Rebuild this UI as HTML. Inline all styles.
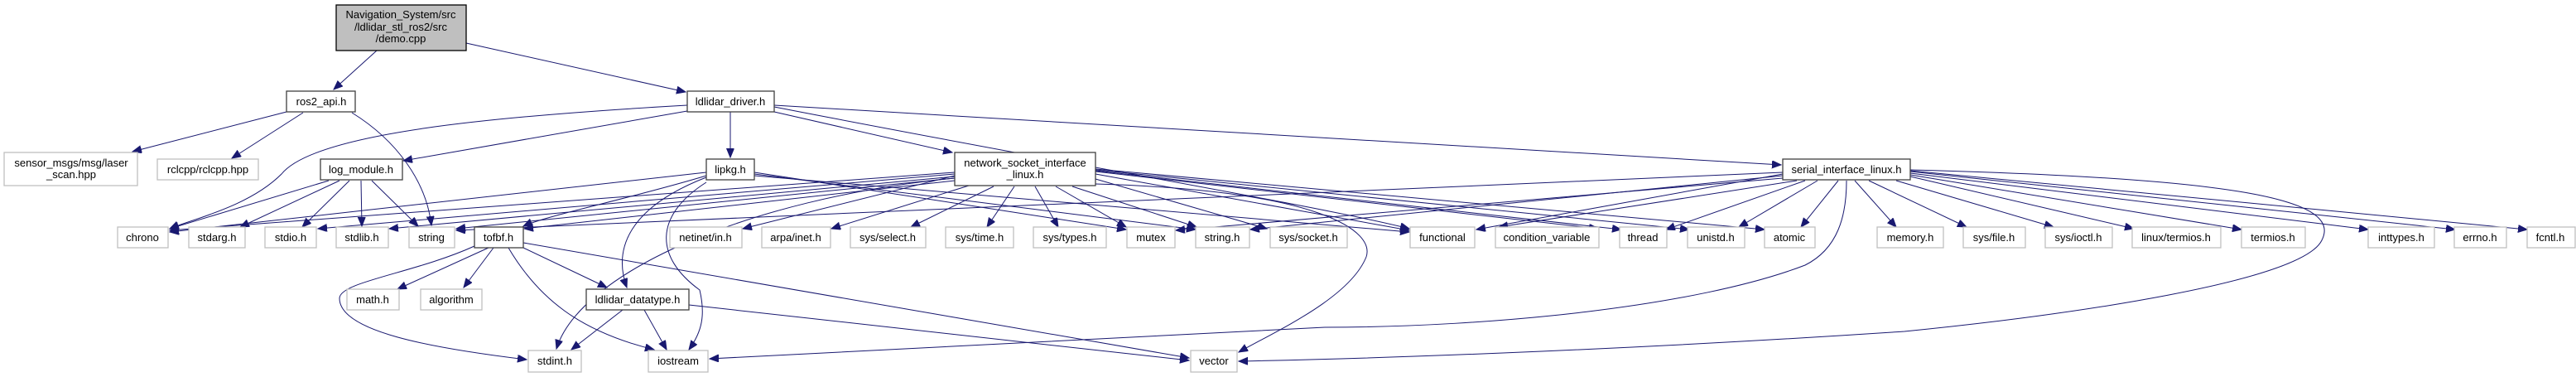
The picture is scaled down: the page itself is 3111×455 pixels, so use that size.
<!DOCTYPE html>
<html><head><meta charset="utf-8"><style>
html,body{margin:0;padding:0;background:#fff;}
svg{display:block;}
text{font-family:"Liberation Sans",Arial,sans-serif;font-size:13px;fill:#000;text-anchor:middle;}
.g{fill:#fff;stroke:#bfbfbf;stroke-width:1.3;}
.b{fill:#fff;stroke:#404040;stroke-width:1.3;}
.e path{fill:none;stroke:#191970;stroke-width:1;marker-end:url(#a);}
</style></head><body>
<svg width="3111" height="455" viewBox="0 0 3111 455" xmlns="http://www.w3.org/2000/svg">
<defs><marker id="a" markerUnits="userSpaceOnUse" markerWidth="12" markerHeight="10" refX="11" refY="4.5" orient="auto"><path d="M0,0 L11,4.5 L0,9 Z" fill="#191970" stroke="#191970"/></marker></defs>
<g class="e">
<path d="M455,61 L403,108"/>
<path d="M563,52 L828,111"/>
<path d="M346,135 L160,183"/>
<path d="M366,136 L280,191"/>
<path d="M425,136 C480,170 515,220 521,272"/>
<path d="M830,127 C600,140 380,160 340,210 C300,250 230,265 205,276"/>
<path d="M830,134 L487,194"/>
<path d="M882,135 L882,190"/>
<path d="M935,135 L1150,184"/>
<path d="M935,127 L2151,199"/>
<path d="M935,129 C1300,200 1600,250 1702,276"/>
<path d="M397,218 L205,276"/>
<path d="M410,218 L290,274"/>
<path d="M422,218 L365,274"/>
<path d="M436,218 L437,273"/>
<path d="M449,218 L505,273"/>
<path d="M853,212 C760,240 660,260 632,273"/>
<path d="M853,214 C760,250 740,300 757,347"/>
<path d="M853,208 L205,280"/>
<path d="M911,208 L1360,277"/>
<path d="M911,210 L1444,277"/>
<path d="M911,212 L1702,280"/>
<path d="M1153,215 C900,240 700,330 672,421"/>
<path d="M853,220 C790,260 790,310 845,350 C852,380 848,400 832,422"/>
<path d="M632,293 L1436,432"/>
<path d="M832,368 L1436,435"/>
<path d="M2307,205 C2700,215 2830,240 2804,290 C2780,340 2500,380 2300,400 C2000,420 1700,432 1496,436"/>
<path d="M2230,218 C2230,260 2220,300 2180,320 C2050,370 1800,395 1600,395 L857,433"/>
<path d="M1323,222 C1600,230 1660,280 1650,310 C1630,360 1540,400 1496,425"/>
<path d="M1153,212 L897,276"/>
<path d="M1170,224 L1004,276"/>
<path d="M1200,225 L1100,274"/>
<path d="M1225,225 L1192,274"/>
<path d="M1250,225 L1278,274"/>
<path d="M1275,225 L1360,274"/>
<path d="M1295,225 L1445,274"/>
<path d="M1323,216 L1530,276"/>
<path d="M1323,210 L1702,278"/>
<path d="M1323,207 L1930,276"/>
<path d="M1323,206 L1958,277"/>
<path d="M1323,205 L2040,277"/>
<path d="M1323,204 L2131,277"/>
<path d="M1153,210 L384,276"/>
<path d="M1153,213 L470,276"/>
<path d="M1153,215 L551,276"/>
<path d="M1153,208 L205,278"/>
<path d="M1153,218 L633,276"/>
<path d="M2153,215 L1420,278"/>
<path d="M2153,212 L1510,277"/>
<path d="M2153,210 L1783,277"/>
<path d="M2170,218 L1810,274"/>
<path d="M2180,218 L2012,277"/>
<path d="M2195,218 L2100,274"/>
<path d="M2220,218 L2175,274"/>
<path d="M2240,218 L2290,274"/>
<path d="M2257,218 L2375,274"/>
<path d="M2290,218 L2480,274"/>
<path d="M2307,213 L2577,276"/>
<path d="M2307,211 L2707,277"/>
<path d="M2307,209 L2860,277"/>
<path d="M2307,207 L2965,277"/>
<path d="M2307,206 L3052,277"/>
<path d="M2153,208 L551,278"/>
<path d="M590,299 L480,349"/>
<path d="M596,299 L560,347"/>
<path d="M632,299 L733,347"/>
<path d="M573,297 C500,330 410,340 410,360 C410,400 520,420 636,434"/>
<path d="M614,299 C650,360 700,400 790,422"/>
<path d="M752,374 L690,422"/>
<path d="M778,374 L805,422"/>
</g>
<rect x="406" y="6" width="157" height="55" fill="#bfbfbf" stroke="#000" stroke-width="1.3"/>
<text x="484" y="22">Navigation_System/src</text>
<text x="484" y="37">/ldlidar_stl_ros2/src</text>
<text x="484" y="51">/demo.cpp</text>
<rect class="b" x="346" y="110" width="83" height="25"/><text x="388" y="127">ros2_api.h</text>
<rect class="b" x="830" y="110" width="105" height="25"/><text x="882" y="127">ldlidar_driver.h</text>
<rect class="g" x="5" y="184" width="161" height="40"/><text x="86" y="201">sensor_msgs/msg/laser</text><text x="86" y="215">_scan.hpp</text>
<rect class="g" x="190" y="192" width="122" height="25"/><text x="251" y="209">rclcpp/rclcpp.hpp</text>
<rect class="b" x="387" y="192" width="99" height="25"/><text x="436" y="209">log_module.h</text>
<rect class="b" x="853" y="192" width="58" height="25"/><text x="882" y="209">lipkg.h</text>
<rect class="b" x="1153" y="184" width="170" height="40"/><text x="1238" y="201">network_socket_interface</text><text x="1238" y="215">_linux.h</text>
<rect class="b" x="2153" y="192" width="154" height="25"/><text x="2230" y="209">serial_interface_linux.h</text>
<g>
<rect class="g" x="142" y="274" width="61" height="25"/><text x="172" y="291">chrono</text>
<rect class="g" x="228" y="274" width="68" height="25"/><text x="262" y="291">stdarg.h</text>
<rect class="g" x="320" y="274" width="62" height="25"/><text x="351" y="291">stdio.h</text>
<rect class="g" x="406" y="274" width="63" height="25"/><text x="437" y="291">stdlib.h</text>
<rect class="g" x="494" y="274" width="55" height="25"/><text x="521" y="291">string</text>
<rect class="b" x="573" y="274" width="59" height="25"/><text x="602" y="291">tofbf.h</text>
<rect class="g" x="809" y="274" width="87" height="25"/><text x="852" y="291">netinet/in.h</text>
<rect class="g" x="920" y="274" width="83" height="25"/><text x="961" y="291">arpa/inet.h</text>
<rect class="g" x="1027" y="274" width="91" height="25"/><text x="1072" y="291">sys/select.h</text>
<rect class="g" x="1142" y="274" width="82" height="25"/><text x="1183" y="291">sys/time.h</text>
<rect class="g" x="1248" y="274" width="88" height="25"/><text x="1292" y="291">sys/types.h</text>
<rect class="g" x="1361" y="274" width="58" height="25"/><text x="1390" y="291">mutex</text>
<rect class="g" x="1444" y="274" width="65" height="25"/><text x="1476" y="291">string.h</text>
<rect class="g" x="1534" y="274" width="93" height="25"/><text x="1580" y="291">sys/socket.h</text>
<rect class="g" x="1703" y="274" width="78" height="25"/><text x="1742" y="291">functional</text>
<rect class="g" x="1806" y="274" width="125" height="25"/><text x="1868" y="291">condition_variable</text>
<rect class="g" x="1956" y="274" width="57" height="25"/><text x="1984" y="291">thread</text>
<rect class="g" x="2038" y="274" width="69" height="25"/><text x="2072" y="291">unistd.h</text>
<rect class="g" x="2131" y="274" width="61" height="25"/><text x="2161" y="291">atomic</text>
<rect class="g" x="2267" y="274" width="80" height="25"/><text x="2307" y="291">memory.h</text>
<rect class="g" x="2371" y="274" width="75" height="25"/><text x="2408" y="291">sys/file.h</text>
<rect class="g" x="2470" y="274" width="81" height="25"/><text x="2510" y="291">sys/ioctl.h</text>
<rect class="g" x="2575" y="274" width="107" height="25"/><text x="2628" y="291">linux/termios.h</text>
<rect class="g" x="2707" y="274" width="77" height="25"/><text x="2745" y="291">termios.h</text>
<rect class="g" x="2860" y="274" width="80" height="25"/><text x="2900" y="291">inttypes.h</text>
<rect class="g" x="2964" y="274" width="63" height="25"/><text x="2995" y="291">errno.h</text>
<rect class="g" x="3052" y="274" width="58" height="25"/><text x="3080" y="291">fcntl.h</text>
</g>
<rect class="g" x="419" y="349" width="63" height="25"/><text x="450" y="366">math.h</text>
<rect class="g" x="508" y="349" width="74" height="25"/><text x="545" y="366">algorithm</text>
<rect class="b" x="708" y="349" width="124" height="25"/><text x="770" y="366">ldlidar_datatype.h</text>
<rect class="g" x="638" y="423" width="64" height="26"/><text x="670" y="440">stdint.h</text>
<rect class="g" x="783" y="423" width="72" height="26"/><text x="819" y="440">iostream</text>
<rect class="g" x="1438" y="423" width="56" height="26"/><text x="1466" y="440">vector</text>
</svg>
</body></html>
